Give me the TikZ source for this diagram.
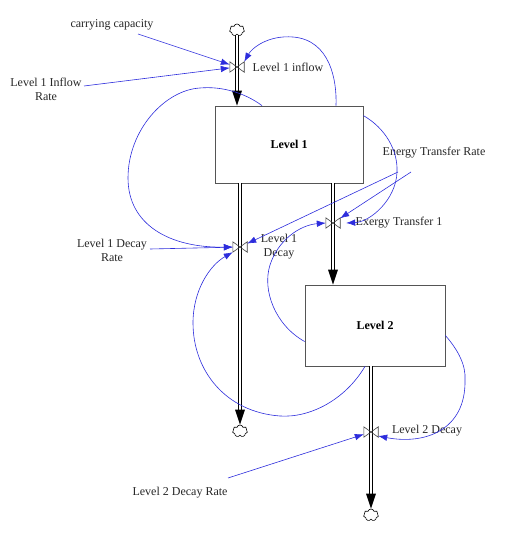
\documentclass[tikz,border=0pt]{standalone}
\usepackage{fontspec}
\setmainfont{Liberation Serif}
\usetikzlibrary{arrows.meta,calc,shapes.symbols}
\definecolor{linkblue}{RGB}{45,45,220}
\definecolor{boxgray}{RGB}{85,85,85}
\begin{document}
\begin{tikzpicture}[x=1pt,y=-1pt,
  every node/.style={font=\fontsize{12}{14}\selectfont},
  link/.style={draw=linkblue, line width=0.6pt, -{Latex[length=9pt,width=6.5pt]}},
  pipe/.style={draw=black, double=white, double distance=2.2pt, line width=0.6pt},
  level/.style={draw=boxgray, line width=0.8pt, fill=white, inner sep=0, font=\fontsize{12}{14}\selectfont\bfseries},
  valve/.style={inner sep=0, minimum width=14pt, minimum height=10pt},
  cloudnode/.style={cloud, draw, cloud puffs=7, aspect=1.2, minimum width=15pt, minimum height=12pt, inner sep=0, line width=0.6pt},
  lbl/.style={inner sep=0, align=center, text=black!85}
]
\useasboundingbox (0,0) rectangle (511,534);

% stocks
\node[level, minimum width=148pt, minimum height=77pt] (L1) at (289,144.5) {Level 1};
\node[level, minimum width=140pt, minimum height=81pt] (L2) at (375,325.5) {Level 2};

% valves
\node[valve] (v1) at (237,67) {};
\node[valve] (v2) at (240,247) {};
\node[valve] (v3) at (333,223) {};
\node[valve] (v4) at (371,432) {};

% clouds
\node[cloudnode] (c1) at (237,30) {};
\node[cloudnode] (c2) at (240,431) {};
\node[cloudnode] (c3) at (371,515) {};

% labels
\node[lbl] (cc) at (112,25) {carrying capacity};
\node[lbl] (lir) at (46,89) {Level 1 Inflow\\Rate};
\node[lbl] (inl) at (288,67) {Level 1 inflow};
\node[lbl] (etr) at (434,153) {Energy Transfer Rate};
\node[lbl] (ex1) at (399,223) {Exergy Transfer 1};
\node[lbl] (l1d) at (279,247) {Level 1\\Decay};
\node[lbl] (l1dr) at (112,250) {Level 1 Decay\\Rate};
\node[lbl] (l2d) at (427,431) {Level 2 Decay};
\node[lbl] (l2dr) at (180,493) {Level 2 Decay Rate};

% pipe tips
\coordinate (t1) at (L1.north -| v1);
\coordinate (t2) at (c2.north);
\coordinate (t3) at (L2.north -| v3);
\coordinate (t4) at (c3.north);

% pipes
\draw[pipe] (c1.south) -- (v1.center) -- ($(t1)+(0,-14)$);
\draw[pipe] (L1.south -| v2) -- (v2.center) -- ($(t2)+(0,-14)$);
\draw[pipe] (L1.south -| v3) -- (v3.center) -- ($(t3)+(0,-14)$);
\draw[pipe] (L2.south -| v4) -- (v4.center) -- ($(t4)+(0,-14)$);
\foreach \t in {t1,t2,t3,t4}
  \fill ($(\t)+(-5,-15)$) -- ($(\t)+(5,-15)$) -- (\t) -- cycle;

% valve bowties
\foreach \v in {v1,v2,v3,v4}
  \draw[line width=0.6pt, black!75] (\v.south west) -- (\v.north east) -- (\v.south east) -- (\v.north west) -- cycle;

% link end points
\coordinate (cc1) at (138,34);
\coordinate (lir1) at (84,86);
\coordinate (l1dr1) at (150,249);
\coordinate (etr1) at (398,172);
\coordinate (etr2) at (411,172);
\coordinate (l2dr1) at (228,478);
\coordinate (s1) at ([xshift=47pt]L1.north);
\coordinate (s2) at ([xshift=-27pt]L1.north);
\coordinate (s3) at ([yshift=-10pt]L1.north east);
\coordinate (s4) at ([yshift=-16pt]L2.west);
\coordinate (s5) at ([xshift=-10pt]L2.south);
\coordinate (s6) at ([yshift=-10pt]L2.east);
\coordinate (e3) at ($(v3.east)+(6,0)$);
\coordinate (e6) at ($(v4.east)+(0,4)$);

% straight links
\draw[link] (cc1) -- (v1);
\draw[link] (lir1) -- (v1);
\draw[link] (l1dr1) -- (v2);
\draw[link] (etr1) -- (v2);
\draw[link] (etr2) -- (v3);
\draw[link] (l2dr1) -- (v4);

% curved links
\draw[link] (s1) .. controls (337,80) and (330,40) .. (293,37)
                 .. controls (268,35) and (252,48) .. (v1.north east);
\draw[link] (s2) .. controls (245,93) and (222,86) .. (200,88)
                 .. controls (165,90) and (128,130) .. (128,178)
                 .. controls (128,225) and (170,248) .. (v2.west);
\draw[link] (s3) .. controls (385,128) and (398,150) .. (397,172)
                 .. controls (396,200) and (370,222) .. (e3);
\draw[link] (s4) .. controls (275,325) and (262,290) .. (270,265)
                 .. controls (278,240) and (300,225) .. (v3.west);
\draw[link] (s5) .. controls (345,400) and (310,418) .. (280,416)
                 .. controls (225,412) and (193,370) .. (193,323)
                 .. controls (193,290) and (210,265) .. (v2.south west);
\draw[link] (s6) .. controls (458,350) and (466,365) .. (465,380)
                 .. controls (466,430) and (425,445) .. (e6);
\end{tikzpicture}
\end{document}
